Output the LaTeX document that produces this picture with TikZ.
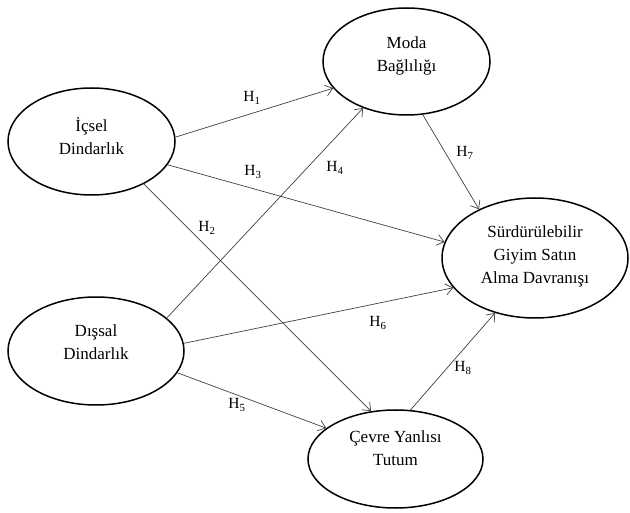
\documentclass[tikz,border=0pt]{standalone}
\usepackage{fontspec}
\setmainfont{Liberation Serif}
\usetikzlibrary{shapes.geometric,arrows.meta}
\begin{document}
\begin{tikzpicture}[x=1pt,y=-1pt,
  construct/.style={ellipse,draw=black,line width=1.5pt,inner sep=0pt,align=center,
    font=\fontsize{17}{23}\selectfont},
  path/.style={draw=black!75,line width=0.7pt,-{Straight Barb[length=7pt,width=11pt,line width=0.7pt]}},
  hlabel/.style={font=\fontsize{15.5}{17}\selectfont,inner sep=0pt}]
\useasboundingbox (0,0) rectangle (630,513);
\node[construct,minimum width=167pt,minimum height=107pt,text depth=12pt] (ic) at (91.5,141.5) {İçsel\\Dindarlık};
\node[construct,minimum width=176pt,minimum height=108pt,text depth=18pt] (dis) at (96,351) {Dışsal\\Dindarlık};
\node[construct,minimum width=167pt,minimum height=107pt,text depth=14pt] (moda) at (406.5,61.5) {Moda\\Bağlılığı};
\node[construct,minimum width=186pt,minimum height=120pt,text depth=7pt] (sur) at (535,258) {Sürdürülebilir\\Giyim Satın\\Alma Davranışı};
\node[construct,minimum width=175pt,minimum height=98pt,text depth=22pt] (cev) at (395.5,459) {Çevre Yanlısı\\Tutum};

\draw[path] (ic.3) -- (moda.200);
\draw[path] (ic.-17) -- (sur.170);
\draw[path] (ic.-39) -- (cev.117);
\draw[path] (dis.25) -- (moda.227);
\draw[path] (dis.5) -- (sur.200);
\draw[path] (dis.-15) -- (cev.156);
\draw[path] (moda.-73) -- (sur.139);
\draw[path] (cev.73) -- (sur.234);

\node[hlabel] (h1) at (252,98) {H\textsubscript{1}};
\node[hlabel] (h2) at (207,228) {H\textsubscript{2}};
\node[hlabel] (h3) at (253,172) {H\textsubscript{3}};
\node[hlabel] (h4) at (335,168) {H\textsubscript{4}};
\node[hlabel] (h5) at (237,405) {H\textsubscript{5}};
\node[hlabel] (h6) at (378,323) {H\textsubscript{6}};
\node[hlabel] (h7) at (465,153) {H\textsubscript{7}};
\node[hlabel] (h8) at (463,368) {H\textsubscript{8}};
\end{tikzpicture}
\end{document}
